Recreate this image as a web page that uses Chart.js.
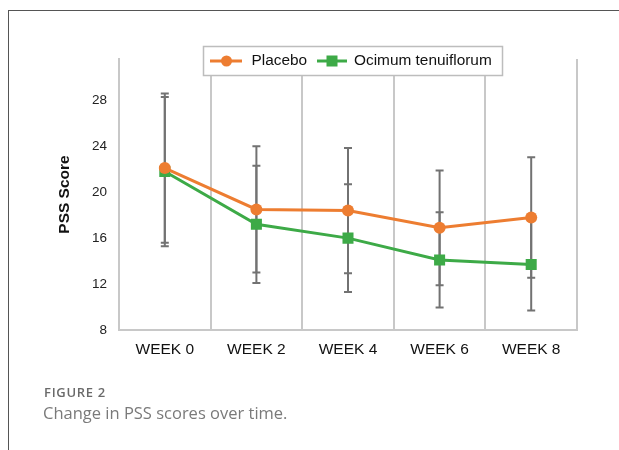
<!DOCTYPE html>
<html>
<head>
<meta charset="utf-8">
<script src="https://cdn.jsdelivr.net/npm/chart.js@4.4.1/dist/chart.umd.min.js"></script>
<style>
  html, body { margin: 0; padding: 0; background: #fff; }
  body { width: 619px; height: 450px; position: relative; overflow: hidden; }
  #frame { position: absolute; left: 8px; top: 10px; width: 640px; height: 460px;
           border-left: 1px solid #555; border-top: 1px solid #555; }
  #wrap { position: absolute; left: 0; top: 0; width: 619px; height: 450px; }
  .cap1 { position: absolute; left: 44px; top: 383px; font-family: "Open Sans", sans-serif;
          font-weight: 600; font-size: 13px; letter-spacing: 0.7px; color: #6a6a6a; }
  .cap2 { position: absolute; left: 43px; top: 401px; font-family: "Open Sans", sans-serif;
          font-weight: 400; font-size: 16.5px; color: #7a7a7a; }
</style>
</head>
<body>
<div id="frame"></div>
<div id="wrap"><canvas id="c" width="619" height="450"></canvas></div>
<div class="cap1">FIGURE 2</div>
<div class="cap2">Change in PSS scores over time.</div>
<script>
const weeks = ["WEEK 0", "WEEK 2", "WEEK 4", "WEEK 6", "WEEK 8"];
const placebo = [22.1, 18.5, 18.4, 16.9, 17.8];
const placeboSD = [6.5, 5.5, 5.45, 5.0, 5.25];
const ocimum = [21.8, 17.2, 16.0, 14.1, 13.7];
const ocimumSD = [6.5, 5.1, 4.7, 4.15, 4.0];
const yTicks = [8, 12, 16, 20, 24, 28];
const yLabel = "PSS Score";
const seriesNames = ["Placebo", "Ocimum tenuiflorum"];

const ORANGE = "#ED7D31", GREEN = "#3DAA47", GRID = "#c8c8c8";
const SANS = "'Liberation Sans', Arial, sans-serif";

const errorBars = {
  id: "errorBars",
  beforeDatasetsDraw(chart) {
    const ctx = chart.ctx, y = chart.scales.y;
    ctx.save();
    ctx.strokeStyle = "#727272";
    ctx.lineWidth = 2;
    chart.data.datasets.forEach((ds, di) => {
      const meta = chart.getDatasetMeta(di);
      ds.sd.forEach((s, i) => {
        const px = meta.data[i].x;
        const top = y.getPixelForValue(ds.data[i] + s);
        const bot = y.getPixelForValue(ds.data[i] - s);
        ctx.beginPath();
        ctx.moveTo(px, top); ctx.lineTo(px, bot);
        ctx.moveTo(px - 4, top); ctx.lineTo(px + 4, top);
        ctx.moveTo(px - 4, bot); ctx.lineTo(px + 4, bot);
        ctx.stroke();
      });
    });
    ctx.restore();
  }
};

const boxLegend = {
  id: "boxLegend",
  afterDraw(chart) {
    const ctx = chart.ctx;
    const bx = 203.5, by = 46.5, bw = 299, bh = 29;
    const cy = by + bh / 2;
    ctx.save();
    ctx.fillStyle = "#fff";
    ctx.fillRect(bx, by, bw, bh);
    ctx.strokeStyle = "#bdbdbd";
    ctx.lineWidth = 1.5;
    ctx.strokeRect(bx, by, bw, bh);
    ctx.font = "15.4px " + SANS;
    ctx.textBaseline = "middle";
    // entry 1
    ctx.strokeStyle = ORANGE; ctx.lineWidth = 3;
    ctx.beginPath(); ctx.moveTo(210, cy); ctx.lineTo(242, cy); ctx.stroke();
    ctx.fillStyle = ORANGE;
    ctx.beginPath(); ctx.arc(226.5, cy, 5.5, 0, Math.PI * 2); ctx.fill();
    ctx.fillStyle = "#111";
    ctx.fillText(chart.data.datasets[0].label, 251.5, cy);
    // entry 2
    ctx.strokeStyle = GREEN;
    ctx.beginPath(); ctx.moveTo(317, cy); ctx.lineTo(347, cy); ctx.stroke();
    ctx.fillStyle = GREEN;
    ctx.fillRect(332 - 5.5, cy - 5.5, 11, 11);
    ctx.fillStyle = "#111";
    ctx.fillText(chart.data.datasets[1].label, 354, cy);
    ctx.restore();
  }
};

new Chart(document.getElementById("c"), {
  type: "line",
  data: {
    labels: weeks,
    datasets: [
      { label: seriesNames[0], data: placebo, sd: placeboSD, borderColor: ORANGE, backgroundColor: ORANGE,
        borderWidth: 3, pointStyle: "circle", pointRadius: 6, pointBorderWidth: 0, tension: 0 },
      { label: seriesNames[1], data: ocimum, sd: ocimumSD, borderColor: GREEN, backgroundColor: GREEN,
        borderWidth: 3, pointStyle: "rect", pointRadius: 7.8, pointBorderWidth: 0, tension: 0 }
    ]
  },
  options: {
    responsive: false,
    animation: false,
    layout: { padding: { top: 59, right: 42, bottom: 0, left: 0 } },
    plugins: { legend: { display: false }, tooltip: { enabled: false } },
    scales: {
      x: {
        offset: true,
        grid: { offset: true, color: GRID, lineWidth: 2, drawTicks: false },
        border: { display: true, color: GRID, width: 2 },
        ticks: { color: "#111", font: { family: SANS, size: 15.5 }, padding: 10, maxRotation: 0 },
        afterFit(s) { s.height = 120; }
      },
      y: {
        min: 8, max: 31.6,
        grid: { display: false, drawTicks: false },
        border: { display: true, color: GRID, width: 2 },
        ticks: { color: "#222", font: { family: SANS, size: 13.5 }, padding: 12, stepSize: 4 },
        afterBuildTicks(s) { s.ticks = yTicks.map(v => ({ value: v })); },
        title: { display: true, text: yLabel, color: "#111",
                 font: { family: SANS, size: 15.5, weight: "bold" }, padding: { top: 55, bottom: 0 } },
        afterFit(s) { s.width = 119; }
      }
    }
  },
  plugins: [errorBars, boxLegend]
});
</script>
</body>
</html>
